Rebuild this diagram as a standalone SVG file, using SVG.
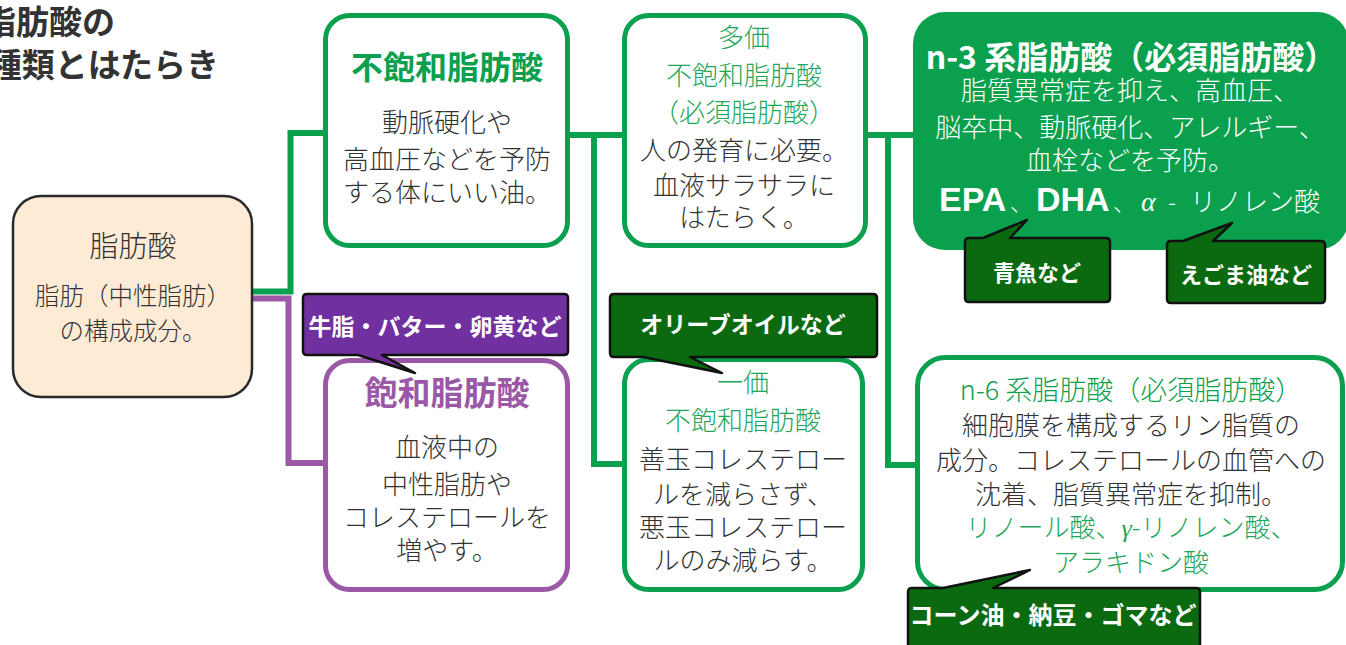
<svg xmlns="http://www.w3.org/2000/svg" width="1346" height="645" viewBox="0 0 1346 645">
<style>
text{font-family:"Noto Sans CJK JP","Noto Sans",sans-serif;text-anchor:middle}
.body{font-size:26px;font-weight:300;fill:#333}
.lg{font-size:26px;font-weight:300;fill:#1ea659}
.wb{font-weight:700;fill:#fff}
.gbox{fill:#fff;stroke:#0aa04e;stroke-width:5}
.pbox{fill:#fff;stroke:#9a58a6;stroke-width:5}
.conn{fill:none;stroke-width:6;stroke-linejoin:miter}
.call{stroke:#111;stroke-width:2.5;stroke-linejoin:round}
.dg{fill:#0b6a0f}
.pp{fill:#7030a0}
</style>
<g id="title">
<text x="115" y="34" style="text-anchor:end;font-size:33px;font-weight:700;fill:#333">脂肪酸の</text>
<text x="219" y="77" style="text-anchor:end;font-size:33px;font-weight:700;fill:#333">種類とはたらき</text>
</g>
<g id="connectors">
<polyline class="conn" stroke="#9a58a6" points="253,298.5 288.5,298.5 288.5,463 326,463"/>
<polyline class="conn" stroke="#0aa04e" points="253,291.5 290.5,291.5 290.5,133 326,133"/>
<polyline class="conn" stroke="#0aa04e" points="568,135 624,135"/>
<polyline class="conn" stroke="#0aa04e" points="594,135 594,464 624,464"/>
<polyline class="conn" stroke="#0aa04e" points="866,135 914,135"/>
<polyline class="conn" stroke="#0aa04e" points="888,135 888,465 918,465"/>
</g>
<g id="node-root">
<rect x="13" y="196" width="239" height="201" rx="28" fill="#fdebd6" stroke="#2a2a2a" stroke-width="2.5"/>
<text x="133" y="257" style="font-size:29px;font-weight:300;fill:#333">脂肪酸</text>
<text x="133" y="305" style="font-size:24.5px;font-weight:300;fill:#333">脂肪（中性脂肪）</text>
<text x="133" y="340" style="font-size:24.5px;font-weight:300;fill:#333">の構成成分。</text>
</g>
<g id="node-unsat">
<rect class="gbox" x="325.5" y="15.5" width="242" height="230" rx="24"/>
<text x="447" y="79" style="font-size:32px;font-weight:700;fill:#0aa04e">不飽和脂肪酸</text>
<text class="body" x="447" y="132">動脈硬化や</text>
<text class="body" x="447" y="169">高血圧などを予防</text>
<text class="body" x="447" y="202">する体にいい油。</text>
</g>
<g id="node-sat">
<rect class="pbox" x="325.5" y="360.5" width="242" height="229" rx="24"/>
<text x="447" y="405" style="font-size:33px;font-weight:700;fill:#9a58a6">飽和脂肪酸</text>
<text class="body" x="447" y="457">血液中の</text>
<text class="body" x="447" y="494">中性脂肪や</text>
<text class="body" x="447" y="527">コレステロールを</text>
<text class="body" x="447" y="560">増やす。</text>
</g>
<g id="node-poly">
<rect class="gbox" x="624.5" y="15.5" width="241" height="230" rx="24"/>
<text class="lg" x="744" y="47">多価</text>
<text class="lg" x="744" y="85">不飽和脂肪酸</text>
<text class="lg" x="744" y="122">（必須脂肪酸）</text>
<text class="body" x="744" y="160">人の発育に必要。</text>
<text class="body" x="744" y="195">血液サラサラに</text>
<text class="body" x="744" y="227">はたらく。</text>
</g>
<g id="node-mono">
<rect class="gbox" x="624.5" y="359.5" width="238" height="230" rx="24"/>
<text class="lg" x="743" y="392">一価</text>
<text class="lg" x="743" y="430">不飽和脂肪酸</text>
<text class="body" x="743" y="469">善玉コレステロー</text>
<text class="body" x="743" y="504">ルを減らさず、</text>
<text class="body" x="743" y="537">悪玉コレステロー</text>
<text class="body" x="743" y="570">ルのみ減らす。</text>
</g>
<g id="node-n3">
<rect x="913" y="12" width="436" height="238" rx="32" fill="#0aa04e"/>
<text x="1131" y="69" class="wb" style="font-size:32px">n-3 系脂肪酸（必須脂肪酸）</text>
<text x="1130" y="100" style="font-size:26px;font-weight:300;fill:#fff">脂質異常症を抑え、高血圧、</text>
<text x="1130" y="137" style="font-size:26px;font-weight:300;fill:#fff">脳卒中、動脈硬化、アレルギー、</text>
<text x="1130" y="170" style="font-size:26px;font-weight:300;fill:#fff">血栓などを予防。</text>
<text y="211" style="text-anchor:start;fill:#fff"><tspan x="939" style="font-family:'Liberation Sans',sans-serif;font-weight:700;font-size:34px">EPA</tspan><tspan x="1010" style="font-size:22px;font-weight:300">、</tspan><tspan x="1036" style="font-family:'Liberation Sans',sans-serif;font-weight:700;font-size:34px">DHA</tspan><tspan x="1113" style="font-size:22px;font-weight:300">、</tspan><tspan x="1141" style="font-family:'Liberation Serif',serif;font-style:italic;font-size:28px">α</tspan><tspan x="1168" style="font-size:24px;font-weight:300">-</tspan><tspan x="1190" style="font-size:26px;font-weight:300">リノレン酸</tspan></text>
</g>
<g id="node-n6">
<rect class="gbox" x="917.5" y="357.5" width="425" height="232" rx="28"/>
<text x="1131" y="400" style="font-size:27px;font-weight:300;fill:#0aa04e">n-6 系脂肪酸（必須脂肪酸）</text>
<text class="body" x="1131" y="435">細胞膜を構成するリン脂質の</text>
<text class="body" x="1131" y="470">成分。コレステロールの血管への</text>
<text class="body" x="1131" y="504">沈着、脂質異常症を抑制。</text>
<text class="lg" x="1131" y="537">リノール酸、<tspan style="font-family:'Liberation Serif',serif;font-style:italic">γ</tspan>-リノレン酸、</text>
<text class="lg" x="1131" y="572">アラキドン酸</text>
</g>
<g id="callout-beef">
<path class="call pp" d="M307 294 L564 294 Q568 294 568 298 L568 351 Q568 355 564 355 L382 355 L415 373 L358 355 L307 355 Q303 355 303 351 L303 298 Q303 294 307 294 Z"/>
<text x="435" y="335" class="wb" style="font-size:23px">牛脂・バター・卵黄など</text>
</g>
<g id="callout-olive">
<path class="call dg" d="M614 294 L873 294 Q877 294 877 298 L877 353 Q877 357 873 357 L690 357 L722 373 L643 357 L614 357 Q610 357 610 353 L610 298 Q610 294 614 294 Z"/>
<text x="743" y="333" class="wb" style="font-size:23px">オリーブオイルなど</text>
</g>
<g id="callout-fish">
<path class="call dg" d="M969 238 L983 238 L1027 220 L1010 238 L1106 238 Q1110 238 1110 242 L1110 298 Q1110 302 1106 302 L969 302 Q965 302 965 298 L965 242 Q965 238 969 238 Z"/>
<text x="1037" y="281" class="wb" style="font-size:22px">青魚など</text>
</g>
<g id="callout-egoma">
<path class="call dg" d="M1171 241 L1183 241 L1232 223 L1213 241 L1321 241 Q1325 241 1325 245 L1325 299 Q1325 303 1321 303 L1171 303 Q1167 303 1167 299 L1167 245 Q1167 241 1171 241 Z"/>
<text x="1246" y="283" class="wb" style="font-size:22px">えごま油など</text>
</g>
<g id="callout-corn">
<path class="call dg" d="M912 588 L943 588 L1030 570 L993 588 L1196 588 Q1200 588 1200 592 L1200 660 L908 660 L908 592 Q908 588 912 588 Z"/>
<text x="1053" y="624" class="wb" style="font-size:24px">コーン油・納豆・ゴマなど</text>
</g>
</svg>
